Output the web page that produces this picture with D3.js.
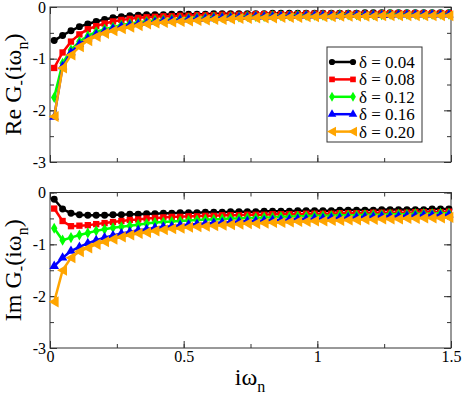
<!DOCTYPE html>
<html>
<head>
<meta charset="utf-8">
<script src="https://cdn.jsdelivr.net/npm/d3@7"></script>
<style>
  body { margin: 0; background: #fff; }
  svg { display: block; }
</style>
</head>
<body>
<svg id="chart"></svg>
<script>
// Matsubara frequencies (x values)
const omega = [0.0157, 0.0471, 0.0785, 0.1100, 0.1414, 0.1728, 0.2042, 0.2356, 0.2670, 0.2985,
  0.3299, 0.3613, 0.3927, 0.4241, 0.4555, 0.4869, 0.5184, 0.5498, 0.5812, 0.6126,
  0.6440, 0.6754, 0.7069, 0.7383, 0.7697, 0.8011, 0.8325, 0.8639, 0.8954, 0.9268,
  0.9582, 0.9896, 1.0210, 1.0524, 1.0838, 1.1153, 1.1467, 1.1781, 1.2095, 1.2409,
  1.2723, 1.3038, 1.3352, 1.3666, 1.3980, 1.4294, 1.4608, 1.4923];

const deltaLabels = ["δ = 0.04", "δ = 0.08", "δ = 0.12", "δ = 0.16", "δ = 0.20"];

// Re G
const re004 = [-0.65, -0.55, -0.46, -0.38, -0.33, -0.28, -0.24, -0.21, -0.19, -0.17, -0.16, -0.15, -0.15,
  -0.15, -0.14, -0.14, -0.14, -0.14, -0.14, -0.13, -0.13, -0.13, -0.13,
  -0.13, -0.13, -0.13, -0.12, -0.12, -0.12, -0.12, -0.12, -0.12, -0.12,
  -0.12, -0.12, -0.12, -0.12, -0.11, -0.11, -0.11, -0.11, -0.11, -0.11,
  -0.11, -0.11, -0.11, -0.11, -0.11];
const re008 = [-1.18, -0.88, -0.67, -0.53, -0.43, -0.37, -0.32, -0.28, -0.25, -0.23, -0.21, -0.20, -0.19,
  -0.18, -0.18, -0.17, -0.17, -0.16, -0.16, -0.16, -0.15, -0.15, -0.15,
  -0.15, -0.14, -0.14, -0.14, -0.14, -0.14, -0.14, -0.13, -0.13, -0.13,
  -0.13, -0.13, -0.13, -0.13, -0.13, -0.13, -0.12, -0.12, -0.12, -0.12,
  -0.12, -0.12, -0.12, -0.12, -0.12];
const re012 = [-1.75, -1.09, -0.83, -0.67, -0.56, -0.48, -0.43, -0.39, -0.35, -0.32, -0.30, -0.28, -0.26,
  -0.25, -0.24, -0.23, -0.22, -0.21, -0.21, -0.20, -0.20, -0.19, -0.19,
  -0.18, -0.18, -0.18, -0.17, -0.17, -0.17, -0.16, -0.16, -0.16, -0.16,
  -0.16, -0.15, -0.15, -0.15, -0.15, -0.15, -0.15, -0.14, -0.14, -0.14,
  -0.14, -0.14, -0.14, -0.14, -0.14];
const re016 = [-2.13, -1.15, -0.88, -0.72, -0.61, -0.53, -0.47, -0.42, -0.38, -0.35, -0.33, -0.31, -0.29,
  -0.27, -0.26, -0.25, -0.24, -0.23, -0.23, -0.22, -0.21, -0.21, -0.20,
  -0.20, -0.19, -0.19, -0.19, -0.18, -0.18, -0.18, -0.17, -0.17, -0.17,
  -0.17, -0.17, -0.16, -0.16, -0.16, -0.16, -0.16, -0.16, -0.15, -0.15,
  -0.15, -0.15, -0.15, -0.15, -0.15];
const re020 = [-2.12, -1.18, -0.93, -0.77, -0.65, -0.57, -0.51, -0.46, -0.42, -0.39, -0.36, -0.33, -0.31,
  -0.30, -0.29, -0.28, -0.27, -0.26, -0.25, -0.24, -0.24, -0.23, -0.22,
  -0.22, -0.21, -0.21, -0.21, -0.20, -0.20, -0.20, -0.19, -0.19, -0.19,
  -0.19, -0.18, -0.18, -0.18, -0.18, -0.18, -0.17, -0.17, -0.17, -0.17,
  -0.17, -0.17, -0.17, -0.17, -0.17];

// Im G
const im004 = [-0.13, -0.32, -0.40, -0.43, -0.44, -0.44, -0.44, -0.43, -0.43, -0.42, -0.42, -0.41, -0.41,
  -0.40, -0.40, -0.39, -0.39, -0.39, -0.38, -0.38, -0.38, -0.37, -0.37,
  -0.37, -0.37, -0.36, -0.36, -0.36, -0.36, -0.35, -0.35, -0.35, -0.35,
  -0.35, -0.34, -0.34, -0.34, -0.34, -0.34, -0.33, -0.33, -0.33, -0.33,
  -0.33, -0.33, -0.32, -0.32, -0.32];
const im008 = [-0.31, -0.55, -0.65, -0.64, -0.63, -0.61, -0.59, -0.57, -0.55, -0.53, -0.52, -0.50, -0.49,
  -0.48, -0.47, -0.47, -0.46, -0.46, -0.45, -0.45, -0.44, -0.44, -0.44,
  -0.43, -0.43, -0.43, -0.42, -0.42, -0.42, -0.42, -0.41, -0.41, -0.41,
  -0.41, -0.40, -0.40, -0.40, -0.40, -0.39, -0.39, -0.39, -0.39, -0.39,
  -0.38, -0.38, -0.38, -0.38, -0.37];
const im012 = [-0.69, -0.92, -0.87, -0.82, -0.78, -0.74, -0.71, -0.68, -0.66, -0.64, -0.62, -0.60, -0.58,
  -0.57, -0.56, -0.55, -0.54, -0.53, -0.52, -0.52, -0.51, -0.50, -0.50,
  -0.49, -0.49, -0.48, -0.48, -0.47, -0.47, -0.46, -0.46, -0.45, -0.45,
  -0.45, -0.44, -0.44, -0.44, -0.43, -0.43, -0.43, -0.42, -0.42, -0.42,
  -0.41, -0.41, -0.41, -0.40, -0.40];
const im016 = [-1.42, -1.26, -1.13, -1.05, -0.98, -0.92, -0.87, -0.83, -0.79, -0.76, -0.73, -0.71, -0.68,
  -0.66, -0.65, -0.63, -0.62, -0.61, -0.60, -0.59, -0.58, -0.57, -0.56,
  -0.55, -0.55, -0.54, -0.53, -0.53, -0.52, -0.51, -0.51, -0.50, -0.50,
  -0.49, -0.49, -0.48, -0.48, -0.47, -0.47, -0.46, -0.46, -0.46, -0.45,
  -0.45, -0.44, -0.44, -0.44, -0.43];
const im020 = [-2.11, -1.50, -1.26, -1.14, -1.07, -1.00, -0.95, -0.90, -0.86, -0.82, -0.79, -0.77, -0.74,
  -0.72, -0.70, -0.69, -0.67, -0.66, -0.65, -0.64, -0.63, -0.62, -0.61,
  -0.60, -0.60, -0.59, -0.58, -0.58, -0.57, -0.56, -0.56, -0.55, -0.55,
  -0.54, -0.54, -0.53, -0.53, -0.52, -0.52, -0.51, -0.51, -0.51, -0.50,
  -0.50, -0.49, -0.49, -0.49, -0.48];

const xTicks = [0, 0.5, 1, 1.5];
const xTickLabels = ["0", "0.5", "1", "1.5"];
const yTicks = [0, -1, -2, -3];
const yTickLabels = ["0", "-1", "-2", "-3"];

const colors = ["#000000", "#ff0000", "#00ff00", "#0000ff", "#ffa500"];
const triLeft = {
  draw(ctx, size) {
    const r = Math.sqrt(size / 1.3);
    ctx.moveTo(-r, 0);
    ctx.lineTo(r * 0.8, -r);
    ctx.lineTo(r * 0.8, r);
    ctx.closePath();
  }
};
const symbols = [d3.symbolCircle, d3.symbolSquare, d3.symbolDiamond, d3.symbolTriangle, triLeft];
const symSizes = [38, 40, 36, 40, 40];

const width = 463, height = 396;
const svg = d3.select("#chart").attr("width", width).attr("height", height);
const font = "'Liberation Serif', 'Times New Roman', serif";

const x = d3.scaleLinear().domain([0, 1.5]).range([50, 451]);

const panels = [
  { series: [re004, re008, re012, re016, re020], top: 7, bottom: 162, label: "Re" },
  { series: [im004, im008, im012, im016, im020], top: 192.5, bottom: 348, label: "Im" }
];

panels.forEach((p, pi) => {
  const y = d3.scaleLinear().domain([-3, 0]).range([p.bottom, p.top]);
  const g = svg.append("g");

  // minor ticks
  const minorX = d3.range(0, 1.51, 0.25);
  const minorY = d3.range(-3, 0.01, 0.5);
  [
    { ax: d3.axisBottom(x), t: `translate(0,${p.bottom})` },
    { ax: d3.axisTop(x), t: `translate(0,${p.top})` }
  ].forEach(a => {
    g.append("g").attr("transform", a.t)
      .call(a.ax.tickValues(minorX).tickSize(-4).tickFormat(""))
      .call(s => s.select(".domain").remove());
  });
  [
    { ax: d3.axisLeft(y), t: "translate(50,0)" },
    { ax: d3.axisRight(y), t: "translate(451,0)" }
  ].forEach(a => {
    g.append("g").attr("transform", a.t)
      .call(a.ax.tickValues(minorY).tickSize(-4).tickFormat(""))
      .call(s => s.select(".domain").remove());
  });

  // major ticks
  g.append("g").attr("transform", `translate(0,${p.bottom})`)
    .call(d3.axisBottom(x).tickValues(xTicks).tickSize(-7)
      .tickFormat(pi === 1 ? (d, i) => xTickLabels[i] : ""))
    .call(s => s.select(".domain").remove())
    .call(s => s.selectAll("text").attr("y", 3).attr("dy", "0.71em"));
  g.append("g").attr("transform", `translate(0,${p.top})`)
    .call(d3.axisTop(x).tickValues(xTicks).tickSize(-7).tickFormat(""))
    .call(s => s.select(".domain").remove());
  g.append("g").attr("transform", "translate(50,0)")
    .call(d3.axisLeft(y).tickValues(yTicks).tickSize(-7).tickPadding(4)
      .tickFormat((d, i) => yTickLabels[i]))
    .call(s => s.select(".domain").remove());
  g.append("g").attr("transform", "translate(451,0)")
    .call(d3.axisRight(y).tickValues(yTicks).tickSize(-7).tickFormat(""))
    .call(s => s.select(".domain").remove());

  g.selectAll(".tick line").attr("stroke", "#333").attr("stroke-width", 1);
  g.selectAll(".tick text")
    .style("font-family", font).style("font-size", "16px").attr("fill", "#000");

  g.append("rect")
    .attr("x", 50).attr("y", p.top)
    .attr("width", 401).attr("height", p.bottom - p.top)
    .attr("fill", "none").attr("stroke", "#333").attr("stroke-width", 1);

  const line = d3.line().x((d, i) => x(omega[i])).y(d => y(d));

  p.series.forEach((s, si) => {
    const sg = g.append("g");
    sg.append("path").datum(s)
      .attr("d", line)
      .attr("fill", "none")
      .attr("stroke", colors[si])
      .attr("stroke-width", 2.5);
    sg.selectAll("path.m").data(s).join("path")
      .attr("class", "m")
      .attr("transform", (d, i) => `translate(${x(omega[i])},${y(d)})`)
      .attr("d", d3.symbol().type(symbols[si]).size(symSizes[si]))
      .attr("fill", colors[si]);
  });

  // y title
  const cy = (p.top + p.bottom) / 2;
  const t = svg.append("text")
    .attr("transform", `translate(21,${cy}) rotate(-90)`)
    .attr("text-anchor", "middle")
    .style("font-family", font)
    .style("font-size", "24px");
  t.append("tspan").text(p.label + " G");
  t.append("tspan").style("font-size", "16px").attr("dy", 5).text("-");
  t.append("tspan").attr("dy", -5).text("(iω");
  t.append("tspan").style("font-size", "16px").attr("dy", 7).text("n");
  t.append("tspan").attr("dy", -7).text(")");
});

// x title
const xt = svg.append("text")
  .attr("x", 250).attr("y", 385)
  .attr("text-anchor", "middle")
  .style("font-family", font)
  .style("font-size", "24px");
xt.append("tspan").text("iω");
xt.append("tspan").style("font-size", "16px").attr("dy", 7).text("n");

// legend
const lg = svg.append("g");
lg.append("rect")
  .attr("x", 327).attr("y", 47).attr("width", 95).attr("height", 95)
  .attr("fill", "#fff").attr("stroke", "#333").attr("stroke-width", 1);
deltaLabels.forEach((lab, i) => {
  const ly = 62 + i * 17.4;
  lg.append("line").attr("x1", 332).attr("x2", 353).attr("y1", ly).attr("y2", ly)
    .attr("stroke", colors[i]).attr("stroke-width", 2.5);
  [332, 353].forEach(mx => {
    lg.append("path")
      .attr("transform", `translate(${mx},${ly})`)
      .attr("d", d3.symbol().type(symbols[i]).size(symSizes[i] * 0.8))
      .attr("fill", colors[i]);
  });
  lg.append("text").attr("x", 359).attr("y", ly).attr("dy", "0.35em")
    .style("font-family", font).style("font-size", "17px").text(lab);
});
</script>
</body>
</html>
